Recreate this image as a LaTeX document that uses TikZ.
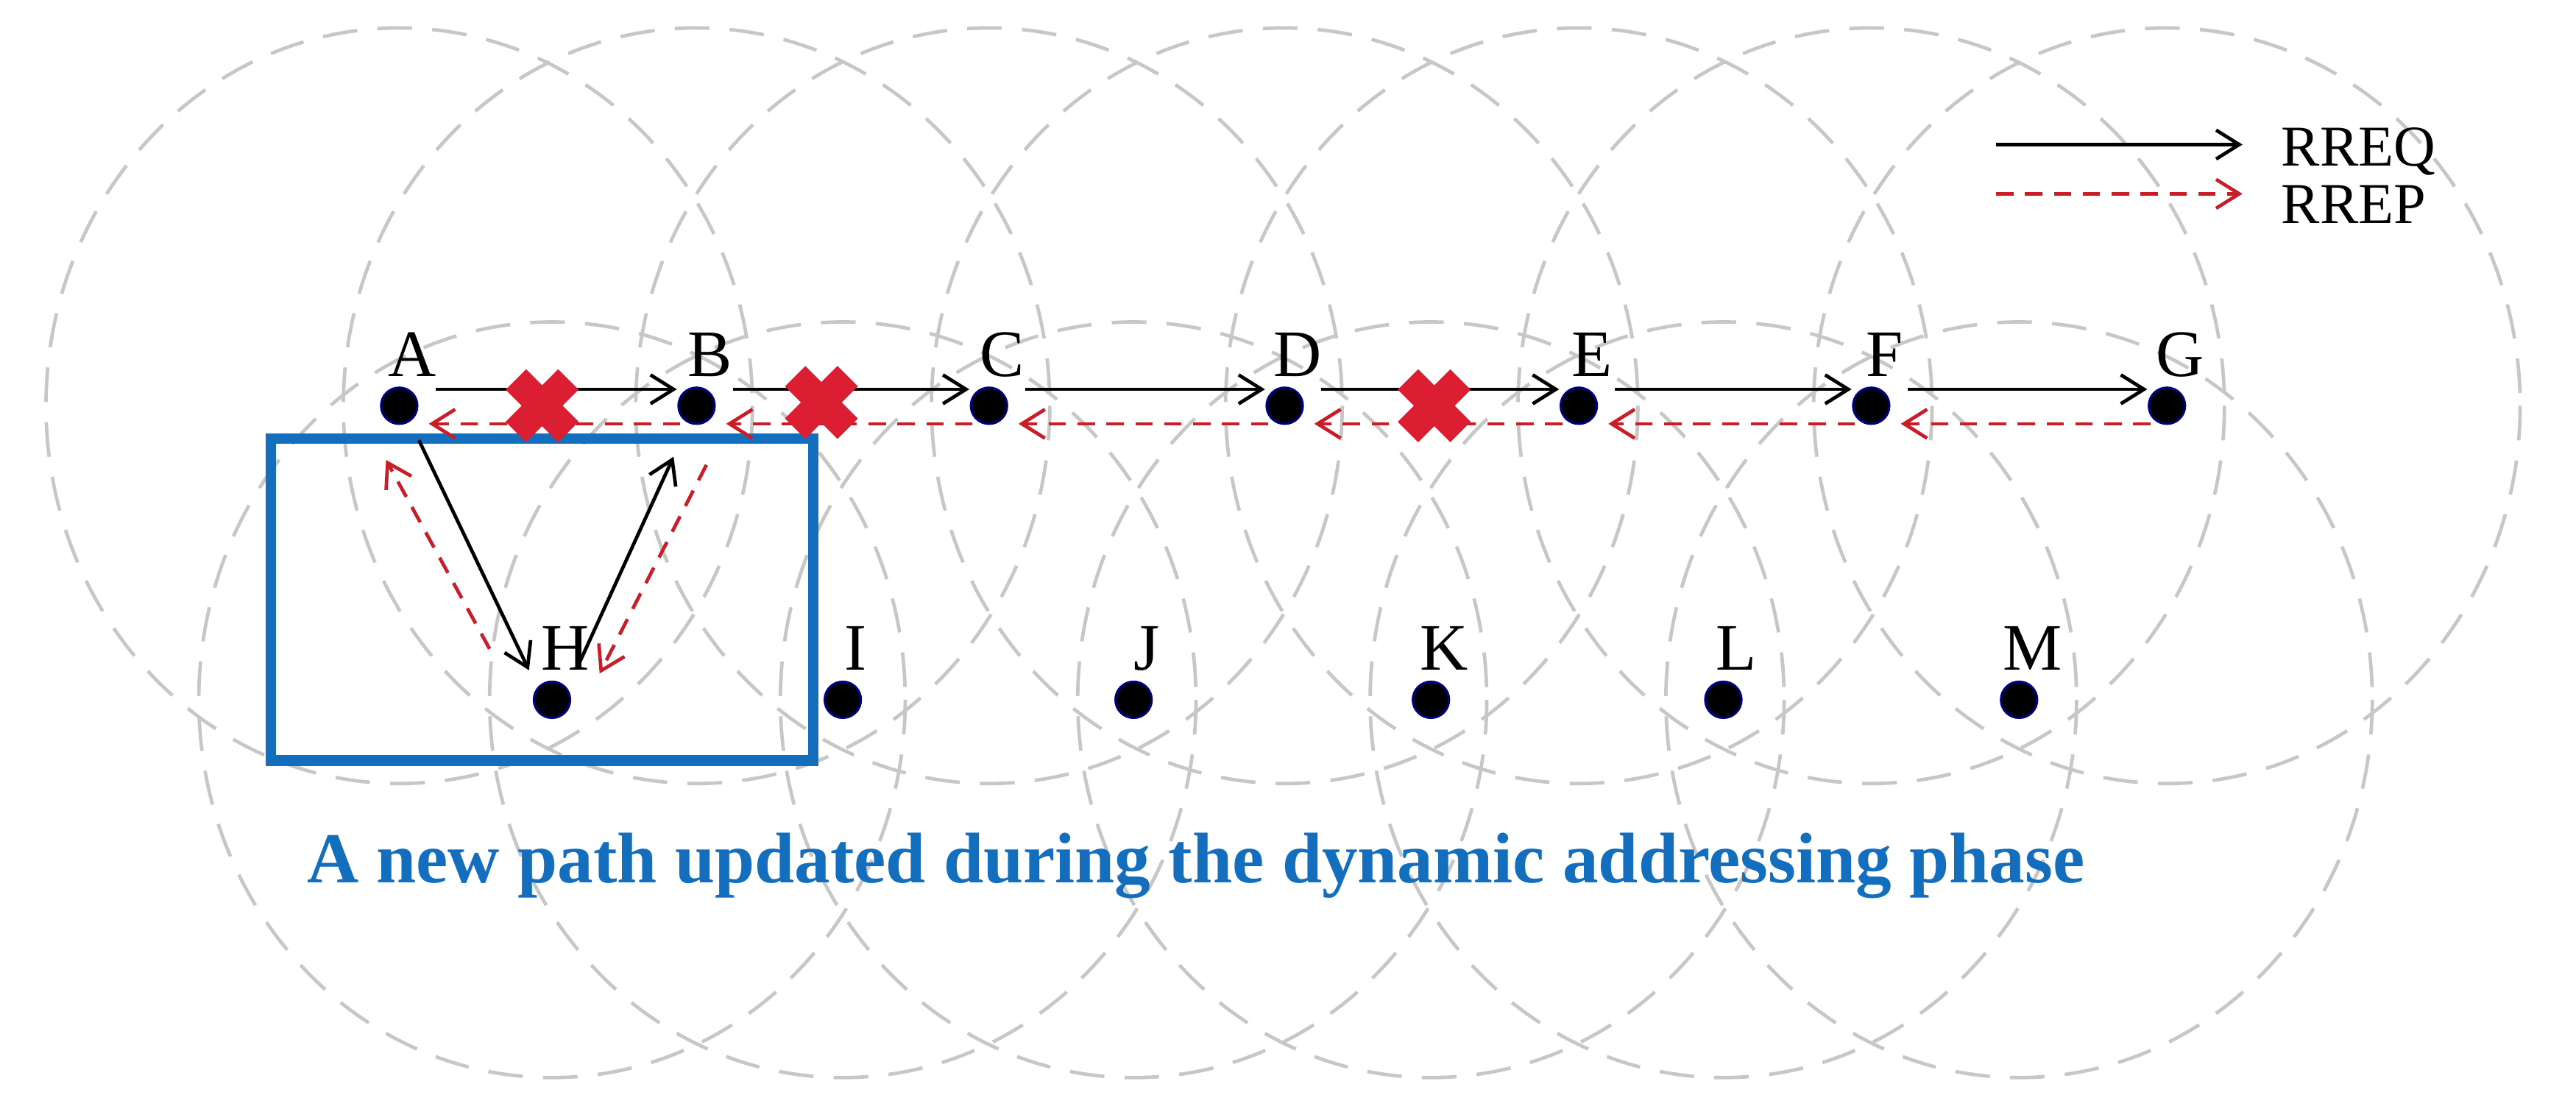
\documentclass[tikz,border=0pt]{standalone}
\usepackage{fontspec}
\setmainfont{Liberation Serif}
\usetikzlibrary{arrows.meta}
\definecolor{myred}{RGB}{200,30,40}
\definecolor{xred}{RGB}{220,30,50}
\definecolor{myblue}{RGB}{20,110,190}
\begin{document}
\begin{tikzpicture}[x=0.01cm,y=-0.01cm,
  rng/.style={draw=black!22,dash pattern=on 6pt off 3.5pt,line width=0.6pt},
  dot/.style={circle,fill=black,draw=blue!50!black,line width=0.4pt,minimum size=0.22cm,inner sep=0},
  lab/.style={font=\fontsize{11.5}{12}\selectfont},
  req/.style={-{Straight Barb[length=4pt,width=5pt]},line width=0.6pt,black},
  rep/.style={-{Straight Barb[length=4pt,width=5pt]},line width=0.6pt,myred,dash pattern=on 3pt off 2pt},
  xmark/.style={line width=5pt,xred}]
\useasboundingbox (0,0) rectangle (1568,675);
\foreach \n/\x/\y in {A/243/247,B/424/247,C/602/247,D/782/247,E/961/247,F/1139/247,G/1319/247,H/336/426,I/513/426,J/690/426,K/871/426,L/1049/426,M/1229/426}{
  \draw[rng] (\x,\y) ellipse[x radius=215,y radius=230];
}
\foreach \n/\x/\y in {A/243/247,B/424/247,C/602/247,D/782/247,E/961/247,F/1139/247,G/1319/247,H/336/426,I/513/426,J/690/426,K/871/426,L/1049/426,M/1229/426}{
  \node[dot] (\n) at (\x,\y) {};
  \node[lab,anchor=base] (l\n) at (\x+8,\y-18) {\n};
}
\draw[myblue,line width=1.8pt] (165,267) rectangle (495,463);
\foreach \a/\b in {A/B,B/C,C/D,D/E,E/F,F/G}{
  \draw[req] ([shift={(22,-10)}]\a.center) -- ([shift={(-12,-10)}]\b.center);
}
\foreach \a/\b in {G/F,F/E,E/D,D/C,C/B,B/A}{
  \draw[rep] ([shift={(-10,11)}]\a.center) -- ([shift={(18,11)}]\b.center);
}
\coordinate (a1) at (255,268); \coordinate (h1) at (322,408);
\coordinate (h2) at (352,405); \coordinate (b1) at (410,278);
\coordinate (h3) at (298,395); \coordinate (a2) at (235,280);
\coordinate (b2) at (430,283); \coordinate (h4) at (365,410);
\draw[req] (a1) -- (h1);
\draw[req] (h2) -- (b1);
\draw[rep] (h3) -- (a2);
\draw[rep] (b2) -- (h4);
\foreach \x/\y in {330/247,500/245,873/247}{
  \draw[xmark] (\x-16,\y-16) -- (\x+16,\y+16) (\x-16,\y+16) -- (\x+16,\y-16);
}
\coordinate (q1) at (1215,88); \coordinate (q2) at (1365,88);
\coordinate (p1) at (1215,118); \coordinate (p2) at (1365,118);
\draw[req] (q1) -- (q2);
\draw[rep] (p1) -- (p2);
\node[font=\fontsize{10}{10}\selectfont,anchor=base west,inner sep=0] (t1) at (1388,101) {RREQ};
\node[font=\fontsize{10}{10}\selectfont,anchor=base west,inner sep=0] (t2) at (1388,136) {RREP};
\node[font=\bfseries\fontsize{12.4}{13}\selectfont,text=myblue] (cap) at (728,527) {A new path updated during the dynamic addressing phase};
\end{tikzpicture}
\end{document}
